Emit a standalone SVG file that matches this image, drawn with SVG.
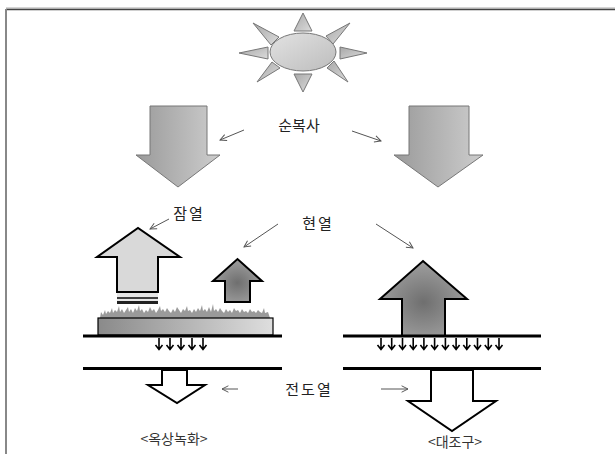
<svg xmlns="http://www.w3.org/2000/svg" xmlns:xlink="http://www.w3.org/1999/xlink" width="615" height="454" viewBox="0 0 615 454">
  <style>
    .lbl { font-family: "Noto Sans CJK KR", "Noto Sans", sans-serif; font-size: 15px; fill: #222; text-anchor: middle; }
    .cap { font-family: "Noto Sans CJK KR", "Noto Sans", sans-serif; font-size: 14px; fill: #333; text-anchor: middle; }
    .thin { stroke: #555; stroke-width: 1; fill: none; marker-end: url(#vhead); }
    .ground { stroke: #000; stroke-width: 3; }
    .heat { stroke: #000; stroke-width: 2; }
  </style>
  <defs>
    <marker id="vhead" viewBox="0 0 10 10" refX="9" refY="5" markerWidth="8" markerHeight="8" orient="auto" markerUnits="userSpaceOnUse">
      <path d="M1,1 L9,5 L1,9" fill="none" stroke="#555" stroke-width="1.2"/>
    </marker>
    <linearGradient id="gDown" x1="0" y1="0" x2="1" y2="0">
      <stop offset="0" stop-color="#9a9a9a"/>
      <stop offset="1" stop-color="#cdcdcd"/>
    </linearGradient>
    <linearGradient id="gSun" x1="0" y1="0" x2="1" y2="1">
      <stop offset="0" stop-color="#e2e2e2"/>
      <stop offset="1" stop-color="#bdbdbd"/>
    </linearGradient>
    <linearGradient id="gRay" x1="0" y1="0" x2="1" y2="1">
      <stop offset="0" stop-color="#a8a8a8"/>
      <stop offset="1" stop-color="#dcdcdc"/>
    </linearGradient>
    <radialGradient id="gWarm" cx="0.5" cy="0.55" r="0.6">
      <stop offset="0" stop-color="#6f6f6f"/>
      <stop offset="1" stop-color="#a3a3a3"/>
    </radialGradient>
    <linearGradient id="gRoof" x1="0" y1="0" x2="1" y2="0">
      <stop offset="0" stop-color="#8a8a8a"/>
      <stop offset="1" stop-color="#dedede"/>
    </linearGradient>
    <g id="drip">
      <path d="M0,0 V11 M-3.5,7 L0,11.5 L3.5,7" fill="none" stroke="#000" stroke-width="1.6"/>
    </g>
  </defs>

  <rect width="615" height="454" fill="#fff"/>

  <!-- page frame -->
  <g id="frame">
    <line x1="6" y1="8" x2="615" y2="8" stroke="#aaa" stroke-width="1"/>
    <line x1="6" y1="9.5" x2="615" y2="9.5" stroke="#444" stroke-width="1.5"/>
    <line x1="6" y1="9" x2="6" y2="454" stroke="#888" stroke-width="2"/>
  </g>

  <!-- sun -->
  <g id="sun" stroke="#777" stroke-width="1">
    <polygon points="303,13 294,31 312,31" fill="url(#gRay)"/>
    <polygon points="303,92 294,74 312,74" fill="url(#gRay)"/>
    <polygon points="239,53 268,47 268,59" fill="url(#gRay)"/>
    <polygon points="367,53 340,47 340,59" fill="url(#gRay)"/>
    <polygon points="253,23 271,45 279,37" fill="url(#gRay)"/>
    <polygon points="350,23 326,36 333,44" fill="url(#gRay)"/>
    <polygon points="257,82 272,62 280,68" fill="url(#gRay)"/>
    <polygon points="348,82 327,68 334,61" fill="url(#gRay)"/>
    <ellipse cx="303" cy="52" rx="33" ry="19" fill="url(#gSun)"/>
  </g>

  <!-- incoming net radiation -->
  <g id="rad-left">
    <polygon points="150,106 207,106 207,155 220,155 178,187 136,155 150,155" fill="url(#gDown)" stroke="#777" stroke-width="1"/>
  </g>
  <g id="rad-right">
    <polygon points="409,106 469,106 469,155 483,155 438,187 394,155 409,155" fill="url(#gDown)" stroke="#777" stroke-width="1"/>
  </g>

  <!-- green roof -->
  <g id="green-roof">
    <path d="M100,318 L101,312 103,315 105,310 106,314 108,311 110,313 112,308 113,313 115,310 117,312 119,306 120,312 122,309 124,313 126,310 128,307 129,312 131,309 133,313 135,308 137,311 139,305 140,311 142,309 144,313 146,310 148,312 150,307 152,311 154,309 156,313 158,310 160,306 161,311 163,309 165,312 167,308 169,311 171,313 173,309 175,312 177,307 179,310 181,313 183,309 185,311 187,306 188,311 190,310 192,313 194,309 196,312 198,308 200,311 202,305 203,311 205,309 207,312 209,307 211,312 213,304 214,311 216,309 218,312 220,308 222,311 224,313 226,309 228,312 230,310 232,313 234,308 236,311 238,310 240,313 242,309 244,312 246,311 248,313 250,309 252,312 254,311 256,313 258,310 260,312 262,313 264,308 265,313 268,312 270,318 Z" fill="#9a9a9a"/>
    <rect x="98" y="318" width="175" height="17" fill="url(#gRoof)" stroke="#000" stroke-width="1.2"/>
    <line class="ground" x1="83" y1="336" x2="282" y2="336"/>
    <line class="ground" x1="83" y1="368.5" x2="282" y2="368.5"/>
  </g>

  <!-- latent heat -->
  <g id="latent">
    <polygon points="117,292 117,257 97,257 138,228 180,257 158,257 158,292" fill="#d9d9d9" stroke="#000" stroke-width="2"/>
    <rect x="117" y="293" width="41" height="4" fill="#e6e6e6"/>
    <line x1="117" y1="298" x2="158" y2="298" stroke="#000" stroke-width="1.5"/>
    <rect x="117" y="299" width="41" height="2" fill="#e6e6e6"/>
    <rect x="117" y="301" width="41" height="3" fill="#222"/>
  </g>

  <!-- sensible heat, green roof -->
  <g id="sensible-left">
    <polygon points="225,302 225,281 213,281 237.5,259 262,281 250,281 250,302" fill="url(#gWarm)" stroke="#000" stroke-width="2"/>
  </g>

  <!-- conduction, green roof -->
  <g id="conduct-left">
    <use xlink:href="#drip" x="159" y="338"/>
    <use xlink:href="#drip" x="170" y="338"/>
    <use xlink:href="#drip" x="181" y="338"/>
    <use xlink:href="#drip" x="192" y="338"/>
    <use xlink:href="#drip" x="203" y="338"/>
    <polygon points="162,370 162,385 148,385 177,403 205,385 187,385 187,370" fill="#fff" stroke="#000" stroke-width="2"/>
  </g>

  <!-- control roof -->
  <g id="control-roof">
    <polygon points="402,336 402,299 380,299 423,261 467,299 445,299 445,336" fill="url(#gWarm)" stroke="#000" stroke-width="2"/>
    <line class="ground" x1="343" y1="336" x2="541" y2="336"/>
    <line class="ground" x1="343" y1="368.5" x2="541" y2="368.5"/>
    <use xlink:href="#drip" x="381" y="338"/>
    <use xlink:href="#drip" x="391.7" y="338"/>
    <use xlink:href="#drip" x="402.5" y="338"/>
    <use xlink:href="#drip" x="413.2" y="338"/>
    <use xlink:href="#drip" x="423.9" y="338"/>
    <use xlink:href="#drip" x="434.6" y="338"/>
    <use xlink:href="#drip" x="445.4" y="338"/>
    <use xlink:href="#drip" x="456.1" y="338"/>
    <use xlink:href="#drip" x="466.8" y="338"/>
    <use xlink:href="#drip" x="477.5" y="338"/>
    <use xlink:href="#drip" x="488.3" y="338"/>
    <use xlink:href="#drip" x="499" y="338"/>
    <polygon points="431,370 431,401 408,401 452,431 496,401 473,401 473,370" fill="#fff" stroke="#000" stroke-width="2"/>
  </g>

  <!-- pointer arrows -->
  <g id="connectors">
    <line class="thin" x1="244" y1="130" x2="220" y2="140"/>
    <line class="thin" x1="352" y1="131" x2="381" y2="141"/>
    <line class="thin" x1="169" y1="219" x2="150" y2="229"/>
    <line class="thin" x1="278" y1="224" x2="244" y2="247"/>
    <line class="thin" x1="376" y1="224" x2="413" y2="248"/>
    <line class="thin" x1="238" y1="389" x2="222" y2="389"/>
    <line class="thin" x1="381" y1="389" x2="408" y2="389"/>
  </g>

  <!-- labels -->
  <g id="labels">
    <text class="lbl" x="299" y="131">순복사</text>
    <text class="lbl" x="189" y="219" letter-spacing="2">잠열</text>
    <text class="lbl" x="318" y="229" letter-spacing="2">현열</text>
    <text class="lbl" x="309" y="395" letter-spacing="2">전도열</text>
    <text class="cap" x="174" y="444">&lt;옥상녹화&gt;</text>
    <text class="cap" x="455" y="447">&lt;대조구&gt;</text>
  </g>
</svg>
